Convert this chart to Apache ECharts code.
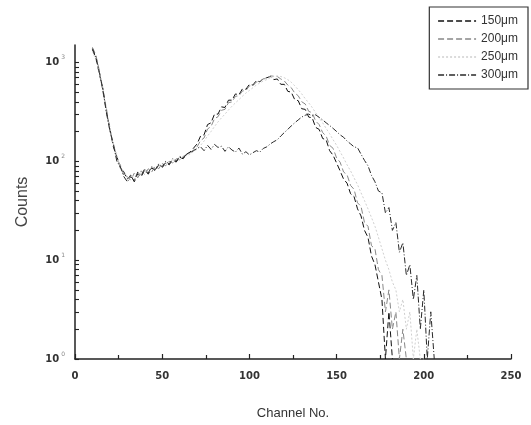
<!DOCTYPE html>
<html>
<head>
<meta charset="utf-8">
<script src="https://cdn.jsdelivr.net/npm/echarts@6/dist/echarts.min.js"></script>
<style>
html,body{margin:0;padding:0;background:#fff;}
#c{width:531px;height:425px;}
</style>
</head>
<body>
<div id="c"></div>
<script>
// Channel numbers (x positions of the samples)
var channels = [10,12,14,16,18,20,22,24,26,28,30,32,34,36,38,40,42,44,46,48,50,52,54,56,58,60,62,64,66,68,
  70,72,74,76,78,80,82,84,86,88,90,92,94,96,98,100,102,104,106,108,
  110,112,114,116,118,120,122,124,126,128,130,132,134,136,138,140,142,144,146,148,
  150,152,154,156,158,160,162,164,166,168,170,172,174,176,178,180,
  182,184,186,188,190,192,194,196,198,200,202,204,206];

var names = ['150\u03bcm','200\u03bcm','250\u03bcm','300\u03bcm'];

var counts150 = [1350,1100,760,540,320,215,140,112,86,78,66,72,62,75,70,82,74,86,80,92,86,97,92,104,98,110,106,118,124,136,
  150,180,185,235,245,300,300,355,350,415,415,480,470,540,535,600,590,655,635,690,
  700,720,670,680,600,600,510,500,420,410,340,335,280,275,220,210,170,165,128,115,
  96,80,66,60,47,44,33,28,20,17,11,9,6,4,1,3,
  1,null,null,null,null,null,null,null,null,null,null,null,null];

var counts200 = [1420,1180,820,500,345,200,152,105,92,72,70,64,76,68,80,73,84,78,90,84,95,90,100,96,106,103,112,116,122,130,
  140,162,172,212,225,270,282,328,335,392,398,455,458,515,518,580,578,635,640,680,
  690,730,725,720,680,650,590,555,490,460,400,380,320,310,255,235,195,180,145,135,
  108,98,78,73,57,52,38,35,24,22,14,13,8,7,3,5,
  2,3,1,2,1,null,null,null,null,null,null,null,null];

var counts250 = [1300,1050,780,560,300,225,145,118,84,80,68,74,66,72,77,80,78,88,84,90,92,94,98,100,104,108,110,114,118,126,
  132,145,160,180,200,225,250,275,300,330,360,390,420,455,490,520,555,590,620,650,
  670,700,720,730,720,700,670,630,580,530,480,430,390,350,310,275,245,215,190,165,
  145,125,108,92,80,68,58,48,40,33,27,22,17,13,10,8,
  6,5,3,4,2,3,1,2,1,1,null,null,null];

var counts300 = [1380,1130,790,530,310,205,148,100,88,70,62,70,64,78,72,84,76,88,82,94,88,100,94,106,100,112,108,118,122,128,
  135,140,128,145,132,148,138,142,126,140,130,124,136,118,125,116,122,128,124,135,
  140,150,158,165,180,195,210,228,245,262,280,292,300,288,295,278,262,245,230,215,
  200,185,175,160,150,140,137,118,102,90,72,
  62,50,48,30,34,20,24,12,15,7,9,4,7,2,5,1,3,1];

var xTicks = [0,50,100,150,200,250];
var yTicks = [1,2,3,4,5,6,7,8,9,10,20,30,40,50,60,70,80,90,100,200,300,400,500,600,700,800,900,1000];
var yLabelTicks = [1,10,100,1000];
var yExponents = {1:'0',10:'1',100:'2',1000:'3'};

function pairs(vals){
  var out=[];
  for(var i=0;i<channels.length;i++){ if(vals[i]!=null) out.push([channels[i], vals[i]]); }
  return out;
}

var chart = echarts.init(document.getElementById('c'), null, {renderer:'canvas'});
var axisColor = '#222';
chart.setOption({
  animation:false,
  backgroundColor:'#fff',
  grid:{left:75,right:20,top:45,bottom:61},
  legend:{
    show:true,
    orient:'vertical', right:3, top:7,
    itemWidth:38, itemHeight:12, itemGap:6,
    padding:[8,10,8,8],
    borderColor:'#333', borderWidth:1.2,
    itemStyle:{opacity:0, borderWidth:0},
    lineStyle:{width:1.5},
    textStyle:{fontFamily:'Liberation Sans', fontSize:12, color:'#333'},
    data:names
  },
  xAxis:{
    type:'value', min:0, max:250, interval:50,
    name:'Channel No.', nameLocation:'middle', nameGap:48,
    nameTextStyle:{fontFamily:'Liberation Sans', fontSize:13, color:'#333'},
    axisLine:{lineStyle:{color:axisColor,width:1.5}},
    axisTick:{inside:true,length:5,lineStyle:{color:axisColor,width:1.2}},
    minorTick:{show:true,splitNumber:2,length:4,lineStyle:{color:axisColor,width:1.2}},
    axisLabel:{margin:12,fontFamily:'DejaVu Sans',fontWeight:'bold',fontSize:10,color:'#333'},
    splitLine:{show:false}
  },
  yAxis:{
    type:'log', logBase:10, min:1, max:1500,
    name:'Counts', nameLocation:'middle', nameGap:44, nameRotate:90,
    nameTextStyle:{fontFamily:'Liberation Sans', fontSize:16, color:'#444'},
    axisLine:{lineStyle:{color:axisColor,width:1.5}},
    axisTick:{inside:true,length:4,lineStyle:{color:axisColor,width:1.1},customValues:yTicks},
    axisLabel:{
      customValues:yLabelTicks, margin:10,
      formatter:function(v){ return '{b|10}{s|'+yExponents[Math.round(v)]+'}'; },
      rich:{
        b:{fontFamily:'DejaVu Sans',fontWeight:'bold',fontSize:10,color:'#333'},
        s:{fontFamily:'DejaVu Sans',fontSize:6,color:'#888',padding:[0,0,9,2]}
      }
    },
    splitLine:{show:false}
  },
  series:[
    {name:names[0],type:'line',data:pairs(counts150),symbol:'none',
     lineStyle:{color:'#111',width:1,type:[6,3]},itemStyle:{color:'#111'}},
    {name:names[1],type:'line',data:pairs(counts200),symbol:'none',
     lineStyle:{color:'#888',width:1,type:[6,3]},itemStyle:{color:'#888'}},
    {name:names[2],type:'line',data:pairs(counts250),symbol:'none',
     lineStyle:{color:'#cfcfcf',width:1,type:[2,2]},itemStyle:{color:'#cfcfcf'}},
    {name:names[3],type:'line',data:pairs(counts300),symbol:'none',
     lineStyle:{color:'#2a2a2a',width:1,type:[6,2,1,2]},itemStyle:{color:'#2a2a2a'}}
  ]
});
</script>
</body>
</html>
